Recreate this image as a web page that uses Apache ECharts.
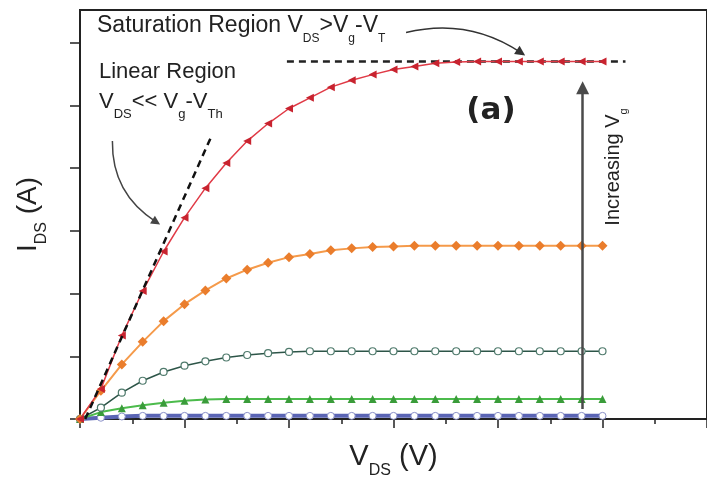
<!DOCTYPE html>
<html><head><meta charset="utf-8">
<script src="https://cdn.jsdelivr.net/npm/echarts@6/dist/echarts.min.js"></script>
<style>html,body{margin:0;padding:0;background:#fff}#c{width:707px;height:484px}</style>
</head><body><div id="c"></div>
<script>
// V_DS sample points (V)
const vds = [0,0.2,0.4,0.6,0.8,1.0,1.2,1.4,1.6,1.8,2.0,2.2,2.4,2.6,2.8,3.0,3.2,3.4,3.6,3.8,4.0,4.2,4.4,4.6,4.8,5.0];
// I_DS curves (A, arbitrary units), increasing V_g
const idsBlue   = [0,0.02,0.04,0.05,0.05,0.05,0.05,0.05,0.05,0.05,0.05,0.05,0.05,0.05,0.05,0.05,0.05,0.05,0.05,0.05,0.05,0.05,0.05,0.05,0.05,0.05];
const idsGreen  = [0,0.11,0.17,0.22,0.26,0.29,0.31,0.32,0.32,0.32,0.32,0.32,0.32,0.32,0.32,0.32,0.32,0.32,0.32,0.32,0.32,0.32,0.32,0.32,0.32,0.32];
const idsTeal   = [0,0.18,0.42,0.61,0.75,0.85,0.92,0.98,1.02,1.05,1.07,1.08,1.08,1.08,1.08,1.08,1.08,1.08,1.08,1.08,1.08,1.08,1.08,1.08,1.08,1.08];
const idsOrange = [0,0.45,0.87,1.23,1.56,1.83,2.05,2.24,2.38,2.49,2.58,2.63,2.69,2.72,2.74,2.75,2.76,2.76,2.76,2.76,2.76,2.76,2.76,2.76,2.76,2.76];
const idsRed    = [0,0.48,1.33,2.04,2.67,3.21,3.68,4.08,4.43,4.71,4.95,5.12,5.29,5.40,5.49,5.57,5.62,5.67,5.69,5.70,5.70,5.70,5.70,5.70,5.70,5.70];
// guide lines
const linearFit = [[0.05,0],[1.25,4.48]];
const satLine   = [[1.98,5.70],[5.22,5.70]];
// annotation arrows (data coords)
const satArrow = [[3.12,6.16],[4.22,5.84]];
const linArrow = [[0.31,4.43],[0.73,3.14]];
const vgArrow  = [[4.81,0.16],[4.81,5.28]];
// axis ticks
const yTicks = [0,1,2,3,4,5,6];

const FF = "'Liberation Sans', Arial, Helvetica, sans-serif";
const pts = ys => vds.map((x,i)=>[x, ys[i]]);
function subRich(main, sub, lh){
  return {
    m: {fontSize: main, fontFamily: FF, lineHeight: lh, color:'#222', fill:'#222'},
    s: {fontSize: sub, fontFamily: FF, lineHeight: sub, verticalAlign:'bottom', color:'#222', fill:'#222'}
  };
}
function arrowSeries(seg, curv, size, color, width){
  return {type:'lines', coordinateSystem:'cartesian2d', silent:true, z:4,
    symbol:['none','triangle'], symbolSize:size,
    lineStyle:{color:color, width:width, curveness:curv, opacity:1},
    data:[{coords: seg}]};
}

const chart = echarts.init(document.getElementById('c'));
const axisCol = '#222';
const option = {
  animation: false,
  grid: {left: 80, top: 10, width: 635, height: 410, show: true, borderColor: axisCol, borderWidth: 2, backgroundColor: 'transparent'},
  xAxis: {
    type: 'value', min: 0, max: 6, interval: 1,
    axisLine: {show: true, onZero: false, lineStyle: {color: axisCol, width: 2}},
    axisTick: {show: true, length: 9, lineStyle: {color: axisCol, width: 1.5}},
    minorTick: {show: true, splitNumber: 2, length: 5, lineStyle: {color: axisCol, width: 1.5}},
    axisLabel: {show: false}, splitLine: {show: false}, minorSplitLine: {show: false},
    name: '{m|V}{s|DS}{m| (V)}', nameLocation: 'middle', nameGap: 16,
    nameTextStyle: {rich: subRich(29, 16, 44)}
  },
  yAxis: {
    type: 'value', min: 0, max: 6.52, interval: 1,
    axisLine: {show: true, onZero: false, lineStyle: {color: axisCol, width: 2}},
    axisTick: {show: true, length: 10, customValues: yTicks, lineStyle: {color: axisCol, width: 1.5}},
    axisLabel: {show: false}, splitLine: {show: false},
    name: '{m|I}{s|DS}{m| (A)}', nameLocation: 'middle', nameGap: 30, nameRotate: 90,
    nameTextStyle: {rich: subRich(28, 16, 44)}
  },
  series: [
    {type:'line', data: pts(idsBlue), symbol:'circle', symbolSize:7, silent:true, z:2,
     itemStyle:{color:'#ffffff', borderColor:'#8a90c8', borderWidth:1}, lineStyle:{color:'#5a64b4', width:4}},
    {type:'line', data: pts(idsGreen), symbol:'triangle', symbolSize:8, silent:true, z:2,
     itemStyle:{color:'#3a9c3a'}, lineStyle:{color:'#4cbb4c', width:2}},
    {type:'line', data: pts(idsTeal), symbol:'circle', symbolSize:7, silent:true, z:2,
     itemStyle:{color:'#ffffff', borderColor:'#4f7a6c', borderWidth:1.2}, lineStyle:{color:'#2d5548', width:1.5}},
    {type:'line', data: pts(idsOrange), symbol:'diamond', symbolSize:10, silent:true, z:2,
     itemStyle:{color:'#ea7d2c'}, lineStyle:{color:'#f59a4a', width:2}},
    {type:'line', data: pts(idsRed), symbol:'triangle', symbolRotate:90, symbolSize:8, silent:true, z:2,
     itemStyle:{color:'#c8232f'}, lineStyle:{color:'#e03a46', width:1.5}},
    {type:'line', data: linearFit, symbol:'none', silent:true, z:3,
     lineStyle:{color:'#111', width:2.5, type:[7,5]}},
    {type:'line', data: satLine, symbol:'none', silent:true, z:1,
     lineStyle:{color:'#222', width:2.5, type:[7,5]}},
    arrowSeries(satArrow, 0.22, 10, '#333', 1.5),
    arrowSeries(linArrow, -0.28, 9, '#444', 1.5),
    arrowSeries(vgArrow, 0, 13, '#4a4a4a', 2.5)
  ],
  graphic: [
    {type:'text', x:97, y:6.4, silent:true,
     style:{text:'{m|Saturation Region V}{s|DS}{m|>V}{s|g}{m|-V}{s|T}', rich: subRich(23, 12, 38)}},
    {type:'text', x:99, y:55.4, silent:true,
     style:{text:'{m|Linear Region}', rich: subRich(22, 13, 34)}},
    {type:'text', x:99, y:83.4, silent:true,
     style:{text:'{m|V}{s|DS}{m|<< V}{s|g}{m|-V}{s|Th}', rich: subRich(22, 13, 38)}},
    {type:'text', x:491, y:111, silent:true,
     style:{text:'(a)', fontFamily:"'DejaVu Sans', sans-serif", fontWeight:'bold', fontSize:31, fill:'#222', align:'center', verticalAlign:'middle'}},
    {type:'text', x:613, y:167, rotation: Math.PI/2, silent:true,
     style:{text:'{m|Increasing V}{s|g}', rich: subRich(20, 11, 32), align:'center', verticalAlign:'middle'}}
  ]
};
chart.setOption(option);
</script>
</body></html>
